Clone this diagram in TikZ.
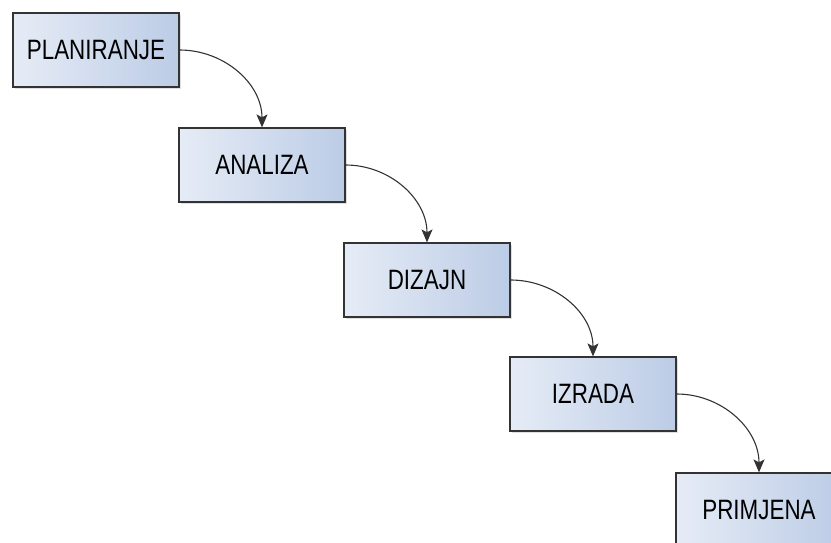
\documentclass[tikz,border=0pt]{standalone}
\usepackage{fontspec}
\setmainfont{Liberation Sans}[FakeStretch=0.8]
\usetikzlibrary{arrows.meta,shadows}
\definecolor{boxleft}{RGB}{230,236,246}
\definecolor{boxright}{RGB}{188,204,230}
\definecolor{boxline}{RGB}{51,51,51}
\begin{document}
\begin{tikzpicture}[x=1pt, y=1pt,
        phase/.style={draw=boxline, line width=1.2pt, left color=boxleft, right color=boxright,
            minimum width=166pt, minimum height=74pt, inner sep=0pt,
            font=\fontsize{28}{30}\selectfont,
            drop shadow={shadow xshift=2pt, shadow yshift=-2pt, opacity=0.25}},
        flow/.style={-{Stealth[length=13pt, width=11pt, inset=3pt]}, line width=1.1pt, boxline}]
        \useasboundingbox (0, 0) rectangle (831, 542);

        % Phases
        \node[phase] (plan) at (96, 492) {PLANIRANJE};
        \node[phase] (anal) at (262, 377) {ANALIZA};
        \node[phase] (diz) at (427, 262) {DIZAJN};
        \node[phase] (izr) at (593, 148) {IZRADA};
        \node[phase] (prim) at (759, 32) {PRIMJENA};

        % Arrows
        \draw[flow] (plan.east) to[out=0, in=90] (anal.north);
        \draw[flow] (anal.east) to[out=0, in=90] (diz.north);
        \draw[flow] (diz.east) to[out=0, in=90] (izr.north);
        \draw[flow] (izr.east) to[out=0, in=90] (prim.north);
    \end{tikzpicture}
\end{document}
